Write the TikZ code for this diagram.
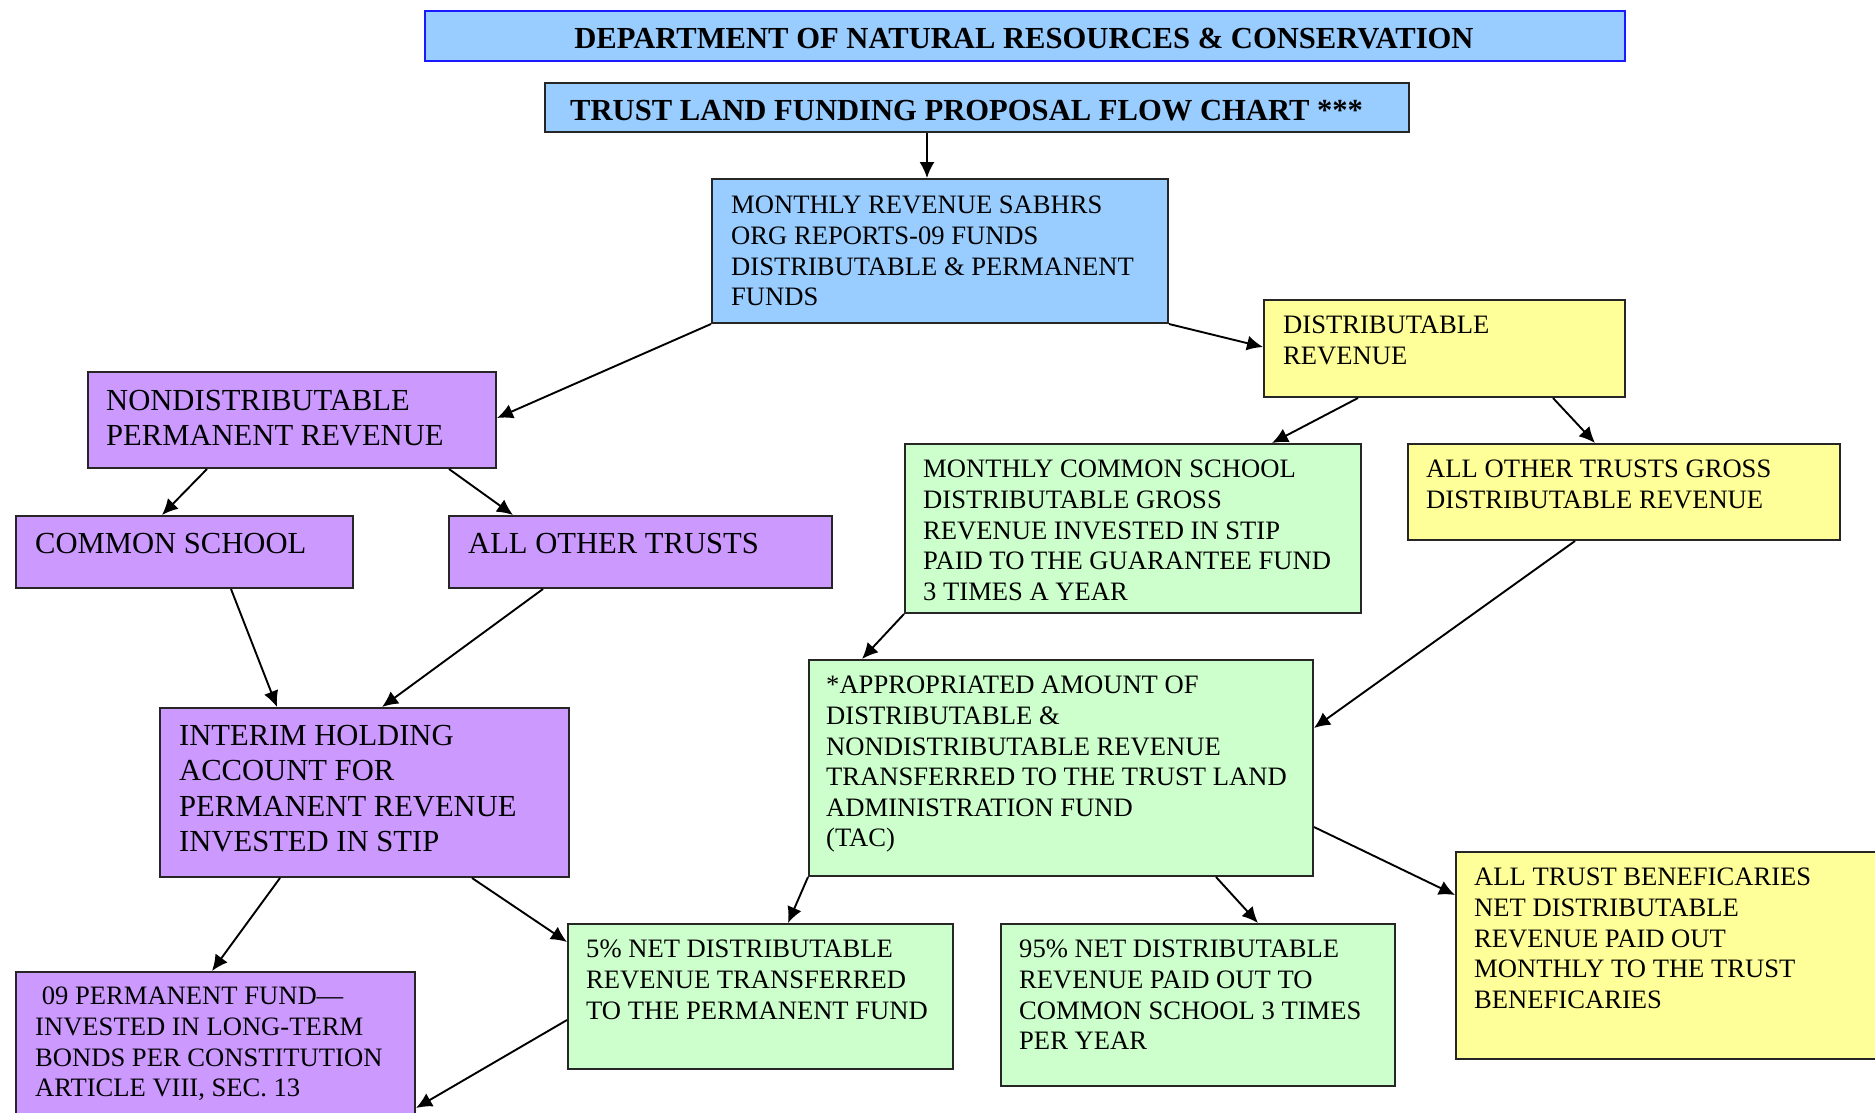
\documentclass[tikz,border=0pt]{standalone}
\usepackage{fontspec}
\setmainfont{Liberation Serif}
\usetikzlibrary{calc,arrows.meta}
\definecolor{cblue}{HTML}{99CCFF}
\definecolor{cpurple}{HTML}{CC99FF}
\definecolor{cyellow}{HTML}{FFFF99}
\definecolor{cgreen}{HTML}{CCFFCC}
\definecolor{tborder}{HTML}{1A1AFF}
\tikzset{
  box/.style={draw=black!85, line width=2pt, inner sep=0pt, anchor=north west},
  smalltxt/.style={anchor=north west, inner sep=0pt, align=left, font=\fontsize{26.6}{30.6}\selectfont},
  bigtxt/.style={anchor=north west, inner sep=0pt, align=left, font=\fontsize{30.6}{35.5}\selectfont},
  titletxt/.style={inner sep=0pt, font=\fontsize{30.6}{35}\selectfont\bfseries},
  arr/.style={-{Latex[length=16pt,width=15pt]}, line width=1.9pt}
}
\begin{document}
\begin{tikzpicture}[x=1pt,y=-1pt]
\useasboundingbox (0,0) rectangle (1875,1112);
\clip (0,0) rectangle (1875,1112);
% boxes
\node[box, draw=tborder, line width=2.2pt, fill=cblue, minimum width=1200pt, minimum height=50pt] (t1) at (424,10) {};
\node[box, fill=cblue, minimum width=864pt, minimum height=49pt] (t2) at (544,82) {};
\node[box, fill=cblue, minimum width=456pt, minimum height=144pt] (mon) at (711,178) {};
\node[box, fill=cyellow, minimum width=361pt, minimum height=97pt] (dist) at (1263,299) {};
\node[box, fill=cpurple, minimum width=408pt, minimum height=96pt] (nondist) at (87,371) {};
\node[box, fill=cpurple, minimum width=337pt, minimum height=72pt] (cs) at (15,515) {};
\node[box, fill=cpurple, minimum width=383pt, minimum height=72pt] (aot) at (448,515) {};
\node[box, fill=cgreen, minimum width=456pt, minimum height=169pt] (mcs) at (904,443) {};
\node[box, fill=cyellow, minimum width=432pt, minimum height=96pt] (aotg) at (1407,443) {};
\node[box, fill=cpurple, minimum width=409pt, minimum height=169pt] (interim) at (159,707) {};
\node[box, fill=cgreen, minimum width=504pt, minimum height=216pt] (approp) at (808,659) {};
\node[box, fill=cgreen, minimum width=385pt, minimum height=145pt] (five) at (567,923) {};
\node[box, fill=cgreen, minimum width=394pt, minimum height=162pt] (ninetyfive) at (1000,923) {};
\node[box, fill=cyellow, minimum width=445pt, minimum height=207pt] (atb) at (1455,851) {};
\node[box, fill=cpurple, minimum width=399pt, minimum height=180pt] (perm) at (15,971) {};
% texts
\node[titletxt] (t1t) at (1024,39) {DEPARTMENT OF NATURAL RESOURCES \& CONSERVATION};
\node[titletxt, anchor=west] (t2t) at (570,111) {TRUST LAND FUNDING PROPOSAL FLOW CHART ***};
\node[smalltxt] (mont) at ($(mon.north west)+(20,18)$) {MONTHLY REVENUE SABHRS\\ORG REPORTS-09 FUNDS\\DISTRIBUTABLE \& PERMANENT\\FUNDS};
\node[smalltxt] (distt) at ($(dist.north west)+(20,17)$) {DISTRIBUTABLE\\REVENUE};
\node[bigtxt] (nondistt) at ($(nondist.north west)+(19,19)$) {NONDISTRIBUTABLE\\PERMANENT REVENUE};
\node[bigtxt] (cst) at ($(cs.north west)+(20,18)$) {COMMON SCHOOL};
\node[bigtxt] (aott) at ($(aot.north west)+(20,18)$) {ALL OTHER TRUSTS};
\node[smalltxt] (mcst) at ($(mcs.north west)+(19,17)$) {MONTHLY COMMON SCHOOL\\DISTRIBUTABLE GROSS\\REVENUE INVESTED IN STIP\\PAID TO THE GUARANTEE FUND\\3 TIMES A YEAR};
\node[smalltxt] (aotgt) at ($(aotg.north west)+(19,17)$) {ALL OTHER TRUSTS GROSS\\DISTRIBUTABLE REVENUE};
\node[bigtxt] (interimt) at ($(interim.north west)+(20,18)$) {INTERIM HOLDING\\ACCOUNT FOR\\PERMANENT REVENUE\\INVESTED IN STIP};
\node[smalltxt] (appropt) at ($(approp.north west)+(18,17)$) {*APPROPRIATED AMOUNT OF\\DISTRIBUTABLE \&\\NONDISTRIBUTABLE REVENUE\\TRANSFERRED TO THE TRUST LAND\\ADMINISTRATION FUND\\(TAC)};
\node[smalltxt] (fivet) at ($(five.north west)+(19,17)$) {5\% NET DISTRIBUTABLE\\REVENUE TRANSFERRED\\TO THE PERMANENT FUND};
\node[smalltxt] (ninetyfivet) at ($(ninetyfive.north west)+(19,17)$) {95\% NET DISTRIBUTABLE\\REVENUE PAID OUT TO\\COMMON SCHOOL 3 TIMES\\PER YEAR};
\node[smalltxt] (atbt) at ($(atb.north west)+(19,17)$) {ALL TRUST BENEFICARIES\\NET DISTRIBUTABLE\\REVENUE PAID OUT\\MONTHLY TO THE TRUST\\BENEFICARIES};
\node[smalltxt] (permt) at ($(perm.north west)+(20,16)$) {\hspace{0.25em}09 PERMANENT FUND—\\INVESTED IN LONG-TERM\\BONDS PER CONSTITUTION\\ARTICLE VIII, SEC. 13};
% connectors
\draw[arr] ($(t2.south west)+(383,0)$) -- ($(mon.north west)+(216,0)$);
\draw[arr] (mon.south west) -- ($(nondist.north east)+(0,47)$);
\draw[arr] (mon.south east) -- ($(dist.north west)+(0,48)$);
\draw[arr] ($(nondist.south west)+(120,0)$) -- ($(cs.north west)+(147,0)$);
\draw[arr] ($(nondist.south west)+(362,0)$) -- ($(aot.north west)+(65,0)$);
\draw[arr] ($(dist.south west)+(95,0)$) -- ($(mcs.north west)+(368,0)$);
\draw[arr] ($(dist.south west)+(290,0)$) -- ($(aotg.north west)+(188,0)$);
\draw[arr] ($(cs.south west)+(216,0)$) -- ($(interim.north west)+(118,0)$);
\draw[arr] ($(aot.south west)+(95,0)$) -- ($(interim.north west)+(223,0)$);
\draw[arr] (mcs.south west) -- ($(approp.north west)+(54,0)$);
\draw[arr] ($(aotg.south west)+(168,0)$) -- ($(approp.north east)+(0,69)$);
\draw[arr] ($(interim.south west)+(121,0)$) -- ($(perm.north west)+(197,0)$);
\draw[arr] ($(interim.south west)+(313,0)$) -- ($(five.north west)+(0,19)$);
\draw[arr] (approp.south west) -- ($(five.north west)+(221,0)$);
\draw[arr] ($(approp.south west)+(408,0)$) -- ($(ninetyfive.north west)+(258,0)$);
\draw[arr] ($(approp.north east)+(0,168)$) -- ($(atb.north west)+(0,44)$);
\draw[arr] ($(five.north west)+(0,97)$) -- ($(perm.north east)+(0,137)$);
\end{tikzpicture}
\end{document}
